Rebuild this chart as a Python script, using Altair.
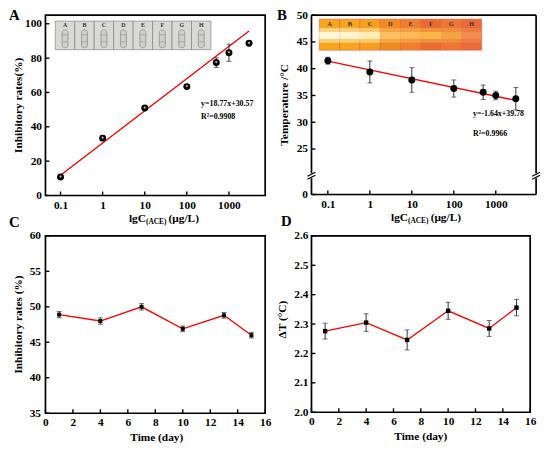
import altair as alt
import pandas as pd

FONT = "Liberation Serif"

# ---------------- data ----------------
# Panel A
a_conc = [0.1, 1, 10, 100, 500, 1000, 3000]
a_rate = [10.7, 33.4, 50.9, 63.4, 77.4, 83.1, 88.6]
a_err = [0.8, 1.2, 0.8, 0.9, 2.8, 5.0, 1.0]
a_fit_x = [0.1, 3000]
a_fit_y = [11.8, 95.8]
a_xticks = [0.1, 1, 10, 100, 1000]
a_yticks = [0, 20, 40, 60, 80, 100]
a_strips = ["A", "B", "C", "D", "E", "F", "G", "H"]

# Panel B
b_conc = [0.1, 1, 10, 100, 500, 1000, 3000]
b_temp = [41.5, 39.4, 37.9, 36.3, 35.6, 35.0, 34.4]
b_err = [0.65, 2.05, 2.3, 1.6, 1.35, 0.8, 2.1]
b_fit_x = [0.1, 3000]
b_fit_y = [41.42, 34.08]
b_yticks = [0, 25, 30, 35, 40, 45, 50]
b_cells = ["A", "B", "C", "D", "E", "F", "G", "H"]
b_cell_base = ["#f7a51c", "#f7a41e", "#f6a020", "#f28a22", "#f07e2c", "#eb6a30", "#ef7634", "#ea6a3c"]
b_cell_glow = ["#fffbe0", "#fff8d6", "#fff0b8", "#fac062", "#f9bc58", "#f8b848", "#f5a448", "#f08e50"]

# Panel C
days = [1, 4, 7, 10, 13, 15]
c_rate = [48.9, 48.0, 50.0, 46.9, 48.8, 46.0]
c_err = [0.45, 0.45, 0.45, 0.4, 0.4, 0.4]
c_xticks = [0, 2, 4, 6, 8, 10, 12, 14, 16]
c_yticks = [35, 40, 45, 50, 55, 60]

# Panel D
d_dt = [2.276, 2.305, 2.246, 2.345, 2.285, 2.356]
d_err = [0.027, 0.030, 0.034, 0.029, 0.027, 0.028]
d_yticks = [2.0, 2.1, 2.2, 2.3, 2.4, 2.5, 2.6]


def one():
    return pd.DataFrame({"k": [0]})


def mk_axis(values, fmt=None, pad=4):
    kw = dict(values=values, title=None, domain=False, ticks=False, tickSize=0, grid=False,
              labelFont=FONT, labelFontWeight="bold", labelFontSize=11.5, labelColor="black",
              labelPadding=pad, labelFlush=False, labelOverlap=False)
    if fmt:
        kw["format"] = fmt
    return alt.Axis(**kw)


def txt(s, x, y, size=11.5, align="center", baseline="middle", angle=0, color="black"):
    kw = dict(text=s, font=FONT, fontWeight="bold", fontSize=size, align=align,
              baseline=baseline, color=color)
    if angle:
        kw["angle"] = angle
    return alt.Chart(one()).mark_text(**kw).encode(x=alt.value(x), y=alt.value(y))


def frame(W, H):
    return alt.Chart(one()).mark_rect(fillOpacity=0, stroke="black", strokeWidth=1.7).encode(
        x=alt.value(0), x2=alt.value(W), y=alt.value(0), y2=alt.value(H))


def seg(x1, y1, x2, y2, color="black", w=1.7):
    return alt.Chart(one()).mark_rule(color=color, strokeWidth=w).encode(
        x=alt.value(x1), x2=alt.value(x2), y=alt.value(y1), y2=alt.value(y2))


def inward_ticks(X, Y, xvals, yvals, W, H):
    xt = alt.Chart(pd.DataFrame({"v": xvals})).mark_rule(color="black", strokeWidth=1.4).encode(
        x=X("v"), y=alt.value(H), y2=alt.value(H - 4))
    yt = alt.Chart(pd.DataFrame({"v": yvals})).mark_rule(color="black", strokeWidth=1.4).encode(
        y=Y("v"), x=alt.value(0), x2=alt.value(4))
    return [xt, yt]


def errbars(df, X, Y, xf, yf, ef, color="#2a2a2a"):
    base = alt.Chart(df).transform_calculate(lo=f"datum.{yf} - datum.{ef}", hi=f"datum.{yf} + datum.{ef}")
    bar = base.mark_rule(color=color, strokeWidth=1).encode(x=X(xf), y=Y("lo"), y2=alt.Y2("hi:Q"))
    caps = base.transform_fold(["lo", "hi"], as_=["which", "val"]).mark_tick(
        orient="horizontal", size=5, thickness=1, color=color).encode(x=X(xf), y=Y("val"))
    return [bar, caps]


def lgc_title(xend, y):
    return [
        txt("lgC", xend, y, 11.5, align="right"),
        txt("(ACE)", xend, y + 3, 7.5, align="left"),
        txt("(μg/L)", xend + 23, y, 11.5, align="left"),
    ]


# ---------------- Panel A ----------------
WA, HA = 223, 183
xsA = alt.Scale(type="log", domain=[0.0438, 7240], nice=False)
ysA = alt.Scale(domain=[0, 105], nice=False, zero=False)
axA_x = mk_axis(a_xticks, fmt="~g", pad=4)
axA_y = mk_axis(a_yticks, pad=4)


def XA(f):
    return alt.X(f"{f}:Q", scale=xsA, axis=axA_x)


def YA(f):
    return alt.Y(f"{f}:Q", scale=ysA, axis=axA_y)


dfA = pd.DataFrame({"c": a_conc, "r": a_rate, "e": a_err})
fitA = alt.Chart(pd.DataFrame({"fx": a_fit_x, "fy": a_fit_y})).mark_line(
    color="#ff0000", strokeWidth=1.4).encode(x=XA("fx"), y=YA("fy"))
ptsA = alt.Chart(dfA).mark_circle(size=50, color="black", opacity=1).encode(x=XA("c"), y=YA("r"))
hlA = alt.Chart(dfA).mark_circle(size=5, color="#bbbbbb", opacity=1, yOffset=-0.5).encode(x=XA("c"), y=YA("r"))

stripA = alt.Chart(pd.DataFrame({"lab": a_strips, "i": list(range(len(a_strips)))})).transform_calculate(
    x0="10 + datum.i * 19.75", x1="10 + (datum.i + 1) * 19.75", xc="10 + (datum.i + 0.5) * 19.75",
    s0="10 + (datum.i + 0.5) * 19.75 - 3", s1="10 + (datum.i + 0.5) * 19.75 + 3")
insetA = [
    stripA.mark_rect(fill="#d9d9d5", stroke="#777777", strokeWidth=0.6).encode(
        x=alt.X("x0:Q", scale=None), x2="x1:Q", y=alt.value(6), y2=alt.value(35)),
    stripA.mark_rect(fill="#cfcfcb", stroke="#9c9c98", strokeWidth=1, cornerRadius=2.5).encode(
        x=alt.X("s0:Q", scale=None), x2="s1:Q", y=alt.value(15), y2=alt.value(33)),
    stripA.mark_rule(color="#a4a4a0", strokeWidth=1).encode(
        x=alt.X("s0:Q", scale=None), x2="s1:Q", y=alt.value(20)),
    stripA.mark_rule(color="#a8a8a4", strokeWidth=1).encode(
        x=alt.X("s0:Q", scale=None), x2="s1:Q", y=alt.value(27)),
    stripA.mark_text(font=FONT, fontWeight="bold", fontSize=6, color="#333333").encode(
        x=alt.X("xc:Q", scale=None), y=alt.value(10), text="lab:N"),
]

panelA = alt.layer(
    *insetA, fitA, *errbars(dfA, XA, YA, "c", "r", "e"), ptsA, hlA,
    *inward_ticks(XA, YA, a_xticks, a_yticks, WA, HA), frame(WA, HA),
    txt("y=18.77x+30.57", 158, 90, 8, align="left"),
    txt("R²=0.9908", 158, 103, 8, align="left"),
    txt("Inhibitory rates(%)", -27, HA / 2, 11.5, angle=270),
    *lgc_title(102, HA + 24),
    txt("A", -37, -7, 15, align="left", baseline="top"),
).properties(width=WA, height=HA)

# ---------------- Panel B ----------------
WB, HB = 228, 182
BRK = 163
xsB = alt.Scale(type="log", domain=[0.0407, 9120], nice=False)
ysB = alt.Scale(domain=[0, 20, 50], range=[HB, BRK, 0], nice=False, zero=False)
axB_x = mk_axis(a_xticks, fmt="~g", pad=4)
axB_y = mk_axis(b_yticks, pad=4)


def XB(f):
    return alt.X(f"{f}:Q", scale=xsB, axis=axB_x)


def YB(f):
    return alt.Y(f"{f}:Q", scale=ysB, axis=axB_y)


dfB = pd.DataFrame({"c": b_conc, "t": b_temp, "e": b_err})
fitB = alt.Chart(pd.DataFrame({"fx": b_fit_x, "fy": b_fit_y})).mark_line(
    color="#ff0000", strokeWidth=1.4).encode(x=XB("fx"), y=YB("fy"))
ptsB = alt.Chart(dfB).mark_circle(size=50, color="black", opacity=1).encode(x=XB("c"), y=YB("t"))

cellB = alt.Chart(pd.DataFrame({"lab": b_cells, "base": b_cell_base, "glow": b_cell_glow,
                                "i": list(range(len(b_cells)))})).transform_calculate(
    x0="8 + datum.i * 20.6", x1="8 + (datum.i + 1) * 20.6", xc="8 + (datum.i + 0.5) * 20.6")
insetB = [
    cellB.mark_rect(stroke="#e0643a", strokeWidth=0.6).encode(
        x=alt.X("x0:Q", scale=None), x2="x1:Q", y=alt.value(4), y2=alt.value(35.5),
        fill=alt.Color("base:N", scale=None)),
    cellB.mark_rect(opacity=0.5).encode(
        x=alt.X("x0:Q", scale=None), x2="x1:Q", y=alt.value(13), y2=alt.value(28),
        fill=alt.Color("glow:N", scale=None)),
    cellB.mark_rect(opacity=0.95).encode(
        x=alt.X("x0:Q", scale=None), x2="x1:Q", y=alt.value(17), y2=alt.value(24),
        fill=alt.Color("glow:N", scale=None)),
    cellB.mark_text(font=FONT, fontWeight="bold", fontSize=6.5, color="#333333").encode(
        x=alt.X("xc:Q", scale=None), y=alt.value(9), text="lab:N"),
]

breaksB = []
for bx in (0, WB):
    breaksB += [
        seg(bx, 0, bx, BRK - 2.5),
        seg(bx, BRK + 2.5, bx, HB),
        seg(bx - 4, BRK + 0.5, bx + 4, BRK - 3.5, w=1.2),
        seg(bx - 4, BRK + 3.5, bx + 4, BRK - 0.5, w=1.2),
    ]

panelB = alt.layer(
    *insetB, fitB, *errbars(dfB, XB, YB, "c", "t", "e", color="#333333"), ptsB,
    *inward_ticks(XB, YB, a_xticks, b_yticks, WB, HB),
    seg(0, 0, WB, 0), seg(0, HB, WB, HB), *breaksB,
    txt("y=-1.64x+39.78", 164, 100, 8, align="left"),
    txt("R²=0.9966", 164, 120.5, 8, align="left"),
    txt("Temperature /°C", -27, HB / 2, 11.5, angle=270),
    *lgc_title(98, HB + 24),
    txt("B", -35, -7, 15, align="left", baseline="top"),
).properties(width=WB, height=HB)

# ---------------- Panel C ----------------
WC, HC = 223, 180
xsC = alt.Scale(domain=[0, 16], nice=False, zero=False)
ysC = alt.Scale(domain=[35, 60], nice=False, zero=False)
axC_x = mk_axis(c_xticks, pad=3)
axC_y = mk_axis(c_yticks, pad=5)


def XC(f):
    return alt.X(f"{f}:Q", scale=xsC, axis=axC_x)


def YC(f):
    return alt.Y(f"{f}:Q", scale=ysC, axis=axC_y)


dfC = pd.DataFrame({"d": days, "r": c_rate, "e": c_err})
lineC = alt.Chart(dfC).mark_line(color="#ff0000", strokeWidth=1.3).encode(x=XC("d"), y=YC("r"))
ptsC = alt.Chart(dfC).mark_square(size=16, color="black", opacity=1).encode(x=XC("d"), y=YC("r"))

panelC = alt.layer(
    lineC, *errbars(dfC, XC, YC, "d", "r", "e", color="#333333"), ptsC,
    *inward_ticks(XC, YC, c_xticks, c_yticks, WC, HC), frame(WC, HC),
    txt("Inhibitory rates (%)", -27, HC / 2, 11.5, angle=270),
    txt("Time (day)", 113, HC + 25, 11.5),
    txt("C", -37, -21, 15, align="left", baseline="top"),
).properties(width=WC, height=HC)

# ---------------- Panel D ----------------
WD, HD = 222, 179
xsD = alt.Scale(domain=[0, 16], nice=False, zero=False)
ysD = alt.Scale(domain=[2.0, 2.6], nice=False, zero=False)
axD_x = mk_axis(c_xticks, pad=3)
axD_y = mk_axis(d_yticks, fmt=".1f", pad=3.5)


def XD(f):
    return alt.X(f"{f}:Q", scale=xsD, axis=axD_x)


def YD(f):
    return alt.Y(f"{f}:Q", scale=ysD, axis=axD_y)


dfD = pd.DataFrame({"d": days, "t": d_dt, "e": d_err})
lineD = alt.Chart(dfD).mark_line(color="#ff0000", strokeWidth=1.3).encode(x=XD("d"), y=YD("t"))
ptsD = alt.Chart(dfD).mark_square(size=20, color="black", opacity=1).encode(x=XD("d"), y=YD("t"))

panelD = alt.layer(
    lineD, *errbars(dfD, XD, YD, "d", "t", "e", color="#333333"), ptsD,
    *inward_ticks(XD, YD, c_xticks, d_yticks, WD, HD), frame(WD, HD),
    txt("ΔT (°C)", -29, 85, 11.5, angle=270),
    txt("Time (day)", 111, HD + 25, 11.5),
    txt("D", -31, -22, 15, align="left", baseline="top"),
).properties(width=WD, height=HD)

chart = alt.concat(
    panelA, panelB, panelC, panelD, columns=2,
    spacing={"row": 41, "column": 47}, bounds="flush",
).properties(padding={"left": 0, "top": -4, "right": 0, "bottom": 0}).configure_view(
    stroke="transparent").configure(background="white")

chart.save("out.html", embed_options={"renderer": "svg", "actions": False})
